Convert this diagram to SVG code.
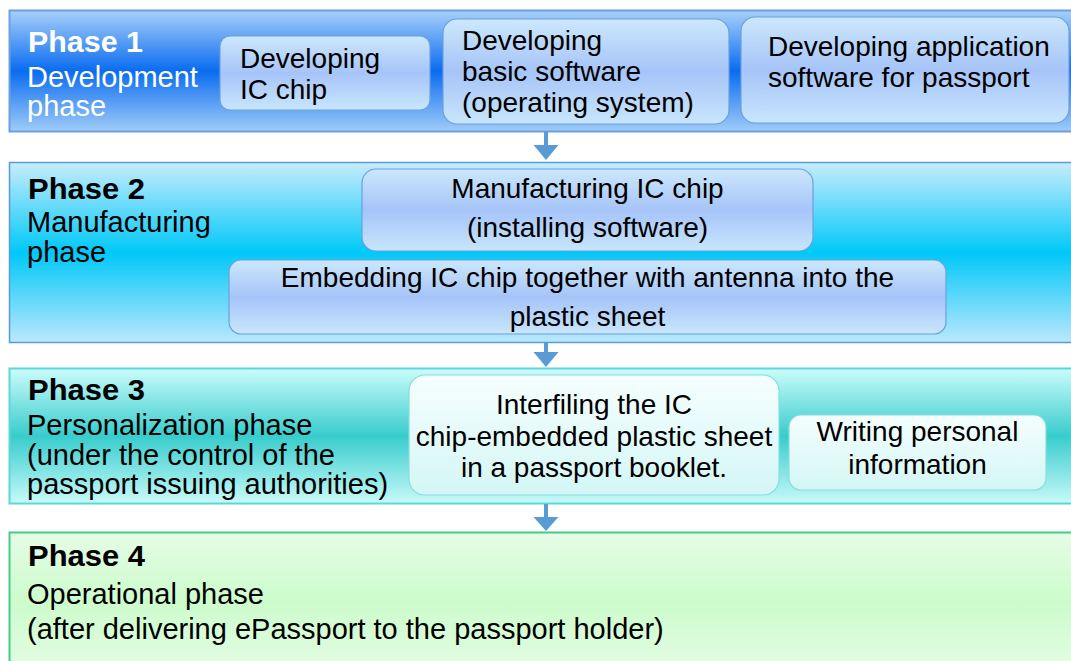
<svg xmlns="http://www.w3.org/2000/svg" width="1071" height="661" viewBox="0 0 1071 661">
<defs>
<linearGradient id="g1" x1="0" y1="0" x2="0" y2="1">
<stop offset="0" stop-color="#a8d0fa"/><stop offset="0.5" stop-color="#0a6cf0"/><stop offset="1" stop-color="#a0ccf8"/>
</linearGradient>
<linearGradient id="g2" x1="0" y1="0" x2="0" y2="1">
<stop offset="0" stop-color="#c8ecfc"/><stop offset="0.5" stop-color="#00c8f8"/><stop offset="1" stop-color="#bce8fc"/>
</linearGradient>
<linearGradient id="g3" x1="0" y1="0" x2="0" y2="1">
<stop offset="0" stop-color="#ccfcfc"/><stop offset="0.5" stop-color="#38cccc"/><stop offset="1" stop-color="#c8fafa"/>
</linearGradient>
<linearGradient id="g4" x1="0" y1="0" x2="0" y2="1">
<stop offset="0" stop-color="#e6fce6"/><stop offset="0.5" stop-color="#ccfccc"/><stop offset="1" stop-color="#e4fce4"/>
</linearGradient>
<linearGradient id="gb" x1="0" y1="0" x2="0" y2="1">
<stop offset="0" stop-color="#cce8fc"/><stop offset="0.5" stop-color="#a6c4f8"/><stop offset="1" stop-color="#c8e6fc"/>
</linearGradient>
<linearGradient id="gc" x1="0" y1="0" x2="0" y2="1">
<stop offset="0" stop-color="#f6fefe"/><stop offset="1" stop-color="#d4f6f6"/>
</linearGradient>
</defs>
<style>
text{font-family:"Liberation Sans",Arial,sans-serif;font-size:28px;fill:#000}
.lbl{font-size:29px}
.hd{font-size:29.5px;font-weight:bold}
.w{fill:#fff}
.mid{text-anchor:middle}
.b1{fill:url(#gb);stroke:#6ca0dc;stroke-width:1.2}
.b3{fill:url(#gc);stroke:#86dede;stroke-width:1.2}
.arr{stroke:#5b9bd5;stroke-width:4;fill:none}
.head{fill:#5b9bd5}
</style>
<g id="phase1">
<rect x="9.5" y="10.5" width="1080" height="121" fill="url(#g1)" stroke="#6aa0e0" stroke-width="2"/>
<text class="hd w" x="28" y="52" textLength="115" lengthAdjust="spacingAndGlyphs">Phase 1</text>
<text class="lbl w" x="27" y="87">Development</text>
<text class="lbl w" x="27" y="116">phase</text>
</g>
<g id="p1-ic">
<rect class="b1" x="220" y="36" width="210" height="74" rx="10"/>
<text x="240" y="68">Developing</text>
<text x="240" y="99">IC chip</text>
</g>
<g id="p1-os">
<rect class="b1" x="443" y="19" width="286" height="105" rx="14"/>
<text x="462" y="50">Developing</text>
<text x="462" y="81">basic software</text>
<text x="462" y="112">(operating system)</text>
</g>
<g id="p1-app">
<rect class="b1" x="741" y="17" width="328" height="106" rx="14"/>
<text x="768" y="56">Developing application</text>
<text x="768" y="87">software for passport</text>
</g>
<g id="phase2">
<rect x="9.5" y="162.5" width="1080" height="180" fill="url(#g2)" stroke="#5b9bd5" stroke-width="1.5"/>
<text class="hd" x="28" y="199" textLength="117" lengthAdjust="spacingAndGlyphs">Phase 2</text>
<text class="lbl" x="27" y="232">Manufacturing</text>
<text class="lbl" x="27" y="262">phase</text>
</g>
<g id="p2-mfg">
<rect class="b1" x="362" y="169" width="451" height="82" rx="14" stroke="#5b9bd5"/>
<text class="mid" x="587.5" y="198">Manufacturing IC chip</text>
<text class="mid" x="587.5" y="237">(installing software)</text>
</g>
<g id="p2-embed">
<rect class="b1" x="229" y="260" width="717" height="74" rx="12" stroke="#5b9bd5"/>
<text class="mid" x="587.5" y="287">Embedding IC chip together with antenna into the</text>
<text class="mid" x="587.5" y="326">plastic sheet</text>
</g>
<g id="phase3">
<rect x="9.5" y="368.5" width="1080" height="135" fill="url(#g3)" stroke="#5cd8d8" stroke-width="2"/>
<text class="hd" x="28" y="400" textLength="117" lengthAdjust="spacingAndGlyphs">Phase 3</text>
<text class="lbl" x="27" y="435">Personalization phase</text>
<text class="lbl" x="27" y="465">(under the control of the</text>
<text class="lbl" x="27" y="494">passport issuing authorities)</text>
</g>
<g id="p3-interfile">
<rect class="b3" x="409" y="375" width="370" height="120" rx="16"/>
<text class="mid" x="594" y="414">Interfiling the IC</text>
<text class="mid" x="594" y="446">chip-embedded plastic sheet</text>
<text class="mid" x="594" y="477">in a passport booklet.</text>
</g>
<g id="p3-write">
<rect class="b3" x="789" y="415" width="257" height="75" rx="12"/>
<text class="mid" x="917.5" y="441">Writing personal</text>
<text class="mid" x="917.5" y="474">information</text>
</g>
<g id="phase4">
<rect x="9.5" y="532.5" width="1080" height="140" fill="url(#g4)" stroke="#44cc88" stroke-width="2"/>
<text class="hd" x="28" y="566" textLength="117" lengthAdjust="spacingAndGlyphs">Phase 4</text>
<text class="lbl" x="27" y="604">Operational phase</text>
<text class="lbl" x="27" y="639">(after delivering ePassport to the passport holder)</text>
</g>
<g id="connectors">
<line class="arr" x1="546" y1="132" x2="546" y2="146"/>
<polygon class="head" points="533.5,145 558.5,145 546,160"/>
<line class="arr" x1="546" y1="343" x2="546" y2="353"/>
<polygon class="head" points="533.5,352 558.5,352 546,367"/>
<line class="arr" x1="546" y1="504" x2="546" y2="518"/>
<polygon class="head" points="533.5,517 558.5,517 546,531"/>
</g>
</svg>
